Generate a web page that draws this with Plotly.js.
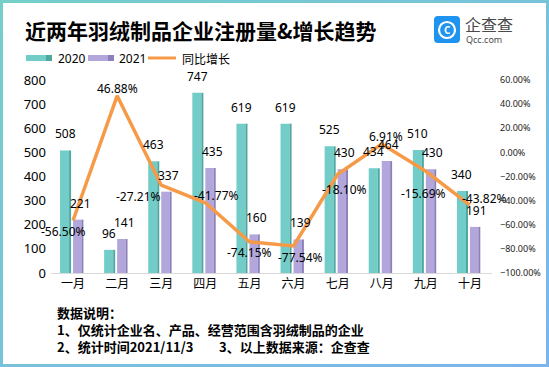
<!DOCTYPE html>
<html>
<head>
<meta charset="utf-8">
<script src="https://cdn.plot.ly/plotly-3.0.1.min.js"></script>
<style>
html,body{margin:0;padding:0;background:#fff;}
#wrap{position:relative;width:549px;height:367px;}
#chart{position:absolute;left:0;top:0;width:549px;height:367px;}
#frame{position:absolute;left:0;top:0;width:549px;height:367px;box-sizing:border-box;border:3px solid;border-image:linear-gradient(to bottom right,#74cfc9,#7cb4ec) 1;pointer-events:none;}
</style>
</head>
<body>
<div id="wrap"><div id="chart"></div><div id="frame"></div></div>
<script>
// ---- data ----
const months = ['一月','二月','三月','四月','五月','六月','七月','八月','九月','十月'];
const reg2020 = [508, 96, 463, 747, 619, 619, 525, 434, 510, 340];
const reg2021 = [221, 141, 337, 435, 160, 139, 430, 464, 430, 191];
const yoyGrowth = [-56.50, 46.88, -27.21, -41.77, -74.15, -77.54, -18.10, 6.91, -15.69, -43.82];
const seriesNames = ['2020', '2021', '同比增长'];

// ---- style ----
const FONT = 'Noto Sans, Noto Sans CJK SC, sans-serif';
const CJK = 'Noto Sans CJK SC, sans-serif';
const c2020 = '#72CCC7', c2020side = '#4FA7A2';
const c2021 = '#B2A6DB', c2021side = '#8C80BC';
const cLine = '#F79A48';
// label offsets for growth labels [dx, dy(down)]
const growthLabelShift = [[-10,11],[0,-7],[-23,11],[11,-7],[0,11],[7,12],[7,15],[4,-8],[-2,22],[15,-7]];

// plot area in pixels
const M = {l:51, r:57, t:80, b:94};
const PW = 549 - M.l - M.r, PH = 367 - M.t - M.b;
const X = v => (v - M.l) / PW;
const Y = v => (367 - M.b - v) / PH;

const traces = [
  {type:'bar', x:months, y:reg2020, offset:-0.295, width:0.205, marker:{color:c2020}, hoverinfo:'skip', showlegend:false},
  {type:'bar', x:months, y:reg2020, offset:-0.09, width:0.045, marker:{color:c2020side}, hoverinfo:'skip', showlegend:false},
  {type:'bar', x:months, y:reg2021, offset:0.0, width:0.19, marker:{color:c2021}, hoverinfo:'skip', showlegend:false},
  {type:'bar', x:months, y:reg2021, offset:0.19, width:0.045, marker:{color:c2021side}, hoverinfo:'skip', showlegend:false},
  {type:'scatter', mode:'lines', x:months, y:yoyGrowth, yaxis:'y2', line:{color:cLine, width:3.5}, hoverinfo:'skip', showlegend:false}
];

const labFont = {family:FONT, size:12, color:'#000'};
const annotations = [];
months.forEach((m,i)=>{
  annotations.push({x:m, y:reg2020[i], xref:'x', yref:'y', text:String(reg2020[i]), showarrow:false,
    xanchor:'center', yanchor:'bottom', xshift:-8, yshift:6, font:labFont});
  annotations.push({x:m, y:reg2021[i], xref:'x', yref:'y', text:String(reg2021[i]), showarrow:false,
    xanchor:'center', yanchor:'bottom', xshift:7, yshift:6, font:labFont});
  annotations.push({x:m, y:yoyGrowth[i], xref:'x', yref:'y2', text:yoyGrowth[i].toFixed(2)+'%', showarrow:false,
    xanchor:'center', yanchor:'middle', xshift:growthLabelShift[i][0], yshift:-growthLabelShift[i][1],
    font:labFont});
});

// legend (custom)
const legY = Y(58);
annotations.push({xref:'paper', yref:'paper', x:X(56), y:legY, xanchor:'left', yanchor:'middle', text:seriesNames[0], showarrow:false, font:{family:FONT, size:12, color:'#000'}});
annotations.push({xref:'paper', yref:'paper', x:X(117), y:legY, xanchor:'left', yanchor:'middle', text:seriesNames[1], showarrow:false, font:{family:FONT, size:12, color:'#000'}});
annotations.push({xref:'paper', yref:'paper', x:X(180), y:legY, xanchor:'left', yanchor:'middle', text:seriesNames[2], showarrow:false, font:{family:CJK, size:12, color:'#000'}});

// logo text
annotations.push({xref:'paper', yref:'paper', x:X(463), y:Y(24), xanchor:'left', yanchor:'middle', text:'企查查', showarrow:false, font:{family:CJK, size:16, color:'#4a4a4a'}});
annotations.push({xref:'paper', yref:'paper', x:X(464), y:Y(40), xanchor:'left', yanchor:'middle', text:'Qcc.com', showarrow:false, font:{family:FONT, size:9, color:'#4a4a4a'}});
annotations.push({xref:'paper', yref:'paper', x:X(447), y:Y(30), xanchor:'center', yanchor:'middle', text:'<b>C</b>', showarrow:false, font:{family:FONT, size:10, color:'#fff'}});

// footnote
const noteFont = {family:CJK, size:13, color:'#000'};
annotations.push({xref:'paper', yref:'paper', x:X(55), y:Y(312), xanchor:'left', yanchor:'middle', text:'<b>数据说明：</b>', showarrow:false, font:noteFont});
annotations.push({xref:'paper', yref:'paper', x:X(55), y:Y(329), xanchor:'left', yanchor:'middle', text:'<b>1、仅统计企业名、产品、经营范围含羽绒制品的企业</b>', showarrow:false, font:noteFont});
annotations.push({xref:'paper', yref:'paper', x:X(55), y:Y(346), xanchor:'left', yanchor:'middle', text:'<b>2、统计时间2021/11/3</b>', showarrow:false, font:noteFont});
annotations.push({xref:'paper', yref:'paper', x:X(217), y:Y(346), xanchor:'left', yanchor:'middle', text:'<b>3、以上数据来源：企查查</b>', showarrow:false, font:noteFont});

const r = (x0,x1,y0,y1,color) => ({type:'rect', xref:'paper', yref:'paper', x0:X(x0), x1:X(x1), y0:Y(y1), y1:Y(y0), fillcolor:color, line:{width:0}});
const logoPath = () => {
  const p = (x,y) => `${X(x)},${Y(y)}`;
  return `M ${p(438,16)} L ${p(456,16)} Q ${p(460,16)} ${p(460,20)} L ${p(460,39)} Q ${p(460,43)} ${p(456,43)} L ${p(438,43)} Q ${p(434,43)} ${p(434,39)} L ${p(434,20)} Q ${p(434,16)} ${p(438,16)} Z`;
};
const shapes = [
  r(26,46,55,61,c2020), r(46,52,55,61,c2020side),
  r(88,108,55,61,c2021), r(108,114,55,61,c2021side),
  {type:'line', xref:'paper', yref:'paper', x0:X(148), x1:X(176), y0:legY, y1:legY, line:{color:cLine, width:3}},
  {type:'path', xref:'paper', yref:'paper', path:logoPath(), fillcolor:'#1E93F0', line:{width:0}},
  {type:'circle', xref:'paper', yref:'paper', x0:X(439), x1:X(455), y0:Y(38), y1:Y(22), line:{color:'#fff', width:2.2}, fillcolor:'rgba(0,0,0,0)'}
];

const layout = {
  width:549, height:367,
  margin:M,
  paper_bgcolor:'#fff', plot_bgcolor:'#fff',
  barmode:'overlay',
  font:{family:FONT, color:'#000'},
  title:{text:'<b>近两年羽绒制品企业注册量&增长趋势</b>', xref:'container', yref:'container', x:25/549, xanchor:'left', y:1-32/367, yanchor:'middle', font:{family:CJK, size:21, color:'#000'}},
  xaxis:{type:'category', range:[-0.5, 9.5], showline:true, linecolor:'#d9d9d9', linewidth:1, ticks:'', showgrid:false, zeroline:false, tickfont:{family:CJK, size:12, color:'#000'}, fixedrange:true},
  yaxis:{range:[0,800], dtick:100, showgrid:false, zeroline:false, showline:false, ticks:'', tickfont:{family:FONT, size:13, color:'#000'}, ticklabelstandoff:4, fixedrange:true},
  yaxis2:{overlaying:'y', side:'right', range:[-100,60], dtick:20, tickformat:'.2f', ticksuffix:'%', showgrid:false, zeroline:false, showline:false, ticks:'', tickfont:{family:FONT, size:9, color:'#222'}, ticklabelstandoff:7, fixedrange:true},
  annotations:annotations,
  shapes:shapes,
  showlegend:false
};

Plotly.newPlot('chart', traces, layout, {displayModeBar:false, staticPlot:true});
</script>
</body>
</html>
